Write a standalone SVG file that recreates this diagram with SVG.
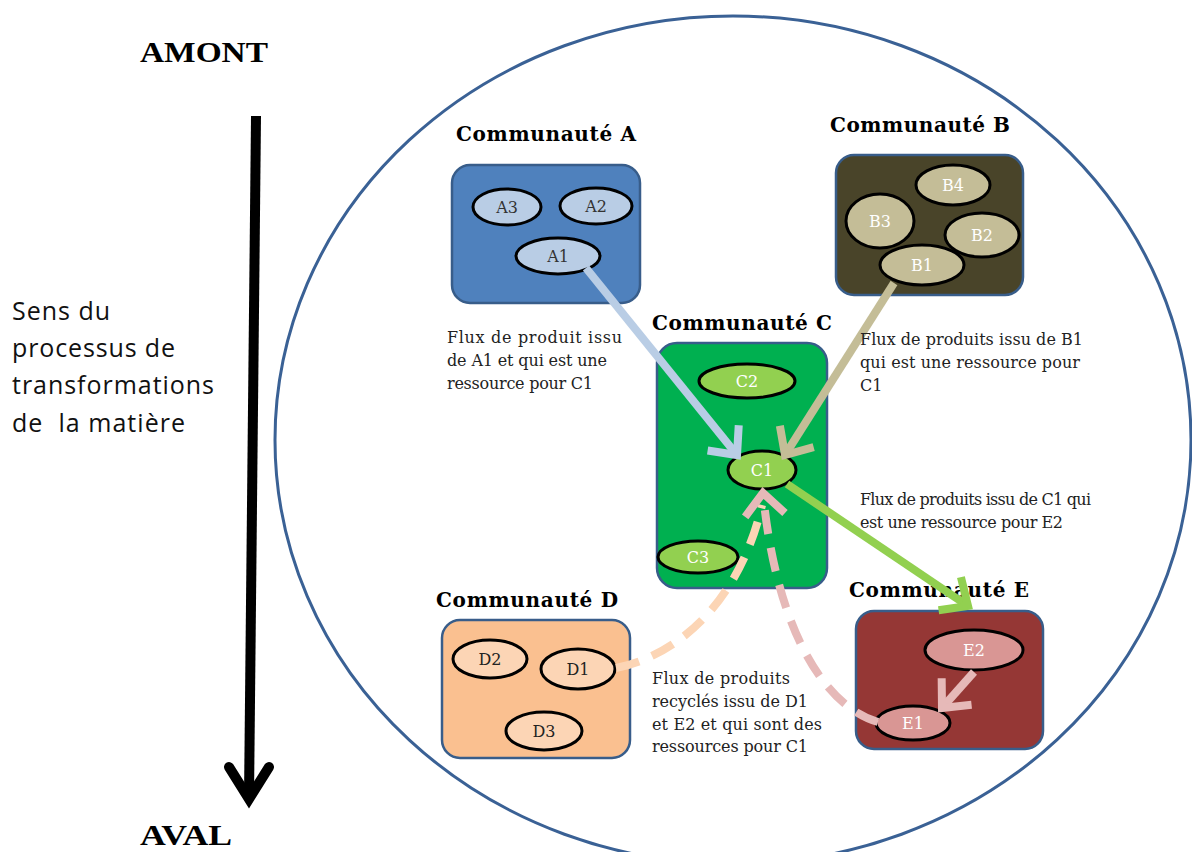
<svg xmlns="http://www.w3.org/2000/svg" width="1192" height="852" viewBox="0 0 1192 852">
<defs>
<style>
.box{stroke:#385d8a;stroke-width:2.5}
.ell{stroke:#000;stroke-width:3}
.title{font-family:"DejaVu Serif","Liberation Serif",serif;font-weight:bold;font-size:20px;fill:#000}
.lbl{font-family:"DejaVu Serif","Liberation Serif",serif;font-size:16px;fill:#222}
.nt{font-family:"DejaVu Serif","Liberation Serif",serif;font-size:16px;text-anchor:middle}
.side{font-family:"Open Sans","DejaVu Sans",sans-serif;font-size:25px;fill:#111}
.big{font-family:"Liberation Serif","DejaVu Serif",serif;font-weight:bold;font-size:30px;fill:#000}
.flow{fill:none;stroke-width:8}
</style>
<marker id="mA" markerUnits="userSpaceOnUse" markerWidth="50" markerHeight="50" viewBox="0 0 50 50" refX="40" refY="25" orient="auto"><path d="M18,5 L40,25 L18,45" fill="none" stroke="#b9cde5" stroke-width="8" stroke-dasharray="none"/></marker>
<marker id="mB" markerUnits="userSpaceOnUse" markerWidth="50" markerHeight="50" viewBox="0 0 50 50" refX="40" refY="25" orient="auto"><path d="M18,5 L40,25 L18,45" fill="none" stroke="#c4bd97" stroke-width="8" stroke-dasharray="none"/></marker>
<marker id="mC" markerUnits="userSpaceOnUse" markerWidth="50" markerHeight="50" viewBox="0 0 50 50" refX="40" refY="25" orient="auto"><path d="M18,5 L40,25 L18,45" fill="none" stroke="#92d050" stroke-width="8" stroke-dasharray="none"/></marker>
<marker id="mE" markerUnits="userSpaceOnUse" markerWidth="50" markerHeight="50" viewBox="0 0 50 50" refX="40" refY="25" orient="auto"><path d="M18,5 L40,25 L18,45" fill="none" stroke="#e6b9b8" stroke-width="8" stroke-dasharray="none"/></marker>
</defs>
<rect width="1192" height="852" fill="#fff"/>

<g id="frame">
<ellipse cx="733" cy="440" rx="458" ry="424" fill="none" stroke="#3a6195" stroke-width="3"/>
</g>

<g id="axis">
<text class="big" x="140" y="62" textLength="128" lengthAdjust="spacingAndGlyphs">AMONT</text>
<text class="big" x="140" y="845" textLength="92" lengthAdjust="spacingAndGlyphs">AVAL</text>
<path d="M256,116 L249,798" stroke="#000" stroke-width="10" fill="none"/>
<path d="M229,767 L249,799 L269,767" stroke="#000" stroke-width="10" fill="none" stroke-linecap="round" stroke-linejoin="miter"/>
<text class="side" x="12" y="320" textLength="98">Sens du</text>
<text class="side" x="12" y="357" textLength="163">processus de</text>
<text class="side" x="12" y="394" textLength="202">transformations</text>
<text class="side" x="12" y="432" textLength="173" xml:space="preserve">de  la matière</text>
</g>

<g id="commA">
<text class="title" x="456" y="141" textLength="180">Communauté A</text>
<rect class="box" x="452" y="165" width="188" height="138" rx="18" fill="#4f81bd"/>
<ellipse class="ell" cx="507" cy="207" rx="34" ry="18" fill="#b9cde5"/>
<text class="nt" x="507" y="213" fill="#333">A3</text>
<ellipse class="ell" cx="596" cy="206" rx="36" ry="18" fill="#b9cde5"/>
<text class="nt" x="596" y="212" fill="#333">A2</text>
<ellipse class="ell" cx="558" cy="256" rx="42" ry="18" fill="#b9cde5"/>
<text class="nt" x="558" y="262" fill="#333">A1</text>
</g>

<g id="commB">
<text class="title" x="830" y="132" textLength="180">Communauté B</text>
<rect class="box" x="836" y="155" width="187" height="140" rx="18" fill="#494429"/>
<ellipse class="ell" cx="953" cy="185" rx="37" ry="20" fill="#c4bd97"/>
<text class="nt" x="953" y="191" fill="#fff">B4</text>
<ellipse class="ell" cx="880" cy="221" rx="34" ry="27" fill="#c4bd97"/>
<text class="nt" x="880" y="227" fill="#fff">B3</text>
<ellipse class="ell" cx="982" cy="235" rx="37" ry="22" fill="#c4bd97"/>
<text class="nt" x="982" y="241" fill="#fff">B2</text>
<ellipse class="ell" cx="922" cy="265" rx="42" ry="20" fill="#c4bd97"/>
<text class="nt" x="922" y="271" fill="#fff">B1</text>
</g>

<g id="commC">
<text class="title" x="652" y="330" textLength="180">Communauté C</text>
<rect class="box" x="657" y="343" width="170" height="245" rx="20" fill="#00b050"/>
<ellipse class="ell" cx="747" cy="381" rx="48" ry="17" fill="#92d050"/>
<text class="nt" x="747" y="387" fill="#fff">C2</text>
<ellipse class="ell" cx="762" cy="470" rx="34" ry="19" fill="#92d050"/>
<text class="nt" x="762" y="476" fill="#fff">C1</text>
<ellipse class="ell" cx="698" cy="557" rx="40" ry="16" fill="#92d050"/>
<text class="nt" x="698" y="563" fill="#fff">C3</text>
</g>

<g id="commD">
<text class="title" x="436" y="607" textLength="182">Communauté D</text>
<rect class="box" x="442" y="620" width="188" height="138" rx="18" fill="#fac090"/>
<ellipse class="ell" cx="490" cy="659" rx="37" ry="19" fill="#fcd5b5"/>
<text class="nt" x="490" y="665" fill="#222">D2</text>
<ellipse class="ell" cx="578" cy="669" rx="37" ry="20" fill="#fcd5b5"/>
<text class="nt" x="578" y="675" fill="#222">D1</text>
<ellipse class="ell" cx="544" cy="731" rx="38" ry="19" fill="#fcd5b5"/>
<text class="nt" x="544" y="737" fill="#222">D3</text>
</g>

<g id="commE">
<text class="title" x="849" y="597" textLength="180">Communauté E</text>
<rect class="box" x="856" y="611" width="187" height="138" rx="18" fill="#953735"/>
<ellipse class="ell" cx="974" cy="650" rx="49" ry="20" fill="#d99694"/>
<text class="nt" x="974" y="656" fill="#fff">E2</text>
<ellipse class="ell" cx="913" cy="723" rx="37" ry="17" fill="#d99694"/>
<text class="nt" x="913" y="729" fill="#fff">E1</text>
</g>

<g id="connectors">
<path class="flow" d="M586,268 L737,455" stroke="#b9cde5" marker-end="url(#mA)"/>
<path class="flow" d="M894,283 L785,455" stroke="#c4bd97" marker-end="url(#mB)"/>
<path class="flow" d="M787,484 L968,606" stroke="#92d050" marker-end="url(#mC)"/>
<path class="flow" d="M974,672 L942,708" stroke="#e6b9b8" marker-end="url(#mE)"/>
<path class="flow" d="M616,668 C680,655 740,600 762,505" stroke="#fcd5b5" stroke-dasharray="24 14"/>
<path class="flow" d="M878,722 C820,705 775,620 763,493" stroke="#e6b9b8" stroke-dasharray="24 14" marker-end="url(#mE)"/>
</g>

<g id="labels">
<text class="lbl" x="447" y="343" textLength="175">Flux de produit issu</text>
<text class="lbl" x="447" y="366" textLength="160">de A1 et qui est une</text>
<text class="lbl" x="447" y="389" textLength="146">ressource pour C1</text>
<text class="lbl" x="860" y="345" textLength="223">Flux de produits issu de B1</text>
<text class="lbl" x="860" y="368" textLength="220">qui est une ressource pour</text>
<text class="lbl" x="860" y="391">C1</text>
<text class="lbl" x="860" y="505" textLength="231">Flux de produits issu de C1 qui</text>
<text class="lbl" x="860" y="528" textLength="203">est une ressource pour E2</text>
<text class="lbl" x="652" y="684" textLength="138">Flux de produits</text>
<text class="lbl" x="652" y="707" textLength="156">recyclés issu de D1</text>
<text class="lbl" x="652" y="730" textLength="170">et E2 et qui sont des</text>
<text class="lbl" x="652" y="752" textLength="156">ressources pour C1</text>
</g>
</svg>
